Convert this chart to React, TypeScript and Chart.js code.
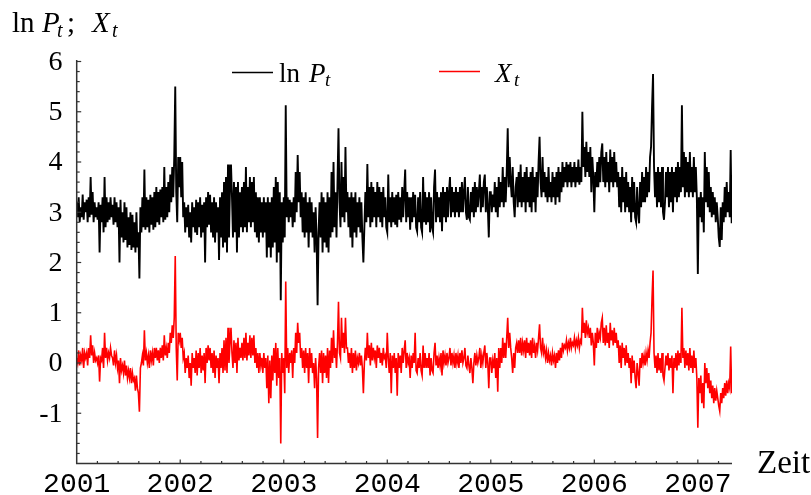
import React, { useEffect, useRef } from "react";
import { Chart, registerables } from "chart.js";

Chart.register(...registerables);

// ---------- data ----------
const YEARS = [2001, 2002, 2003, 2004, 2005, 2006, 2007];
const X_TICK_LABELS = ["2001", "2002", "2003", "2004", "2005", "2006", "2007"];
const Y_TICKS = [-1, 0, 1, 2, 3, 4, 5, 6];
const Y_TICK_LABELS = ["-1", "0", "1", "2", "3", "4", "5", "6"];
const SAMPLES_PER_YEAR = 104; // two readings per week (weekday / weekend)
const X_MIN = 2001;
const X_MAX = 2007.33;
const Y_MIN = -2;
const Y_MAX = 6;

const LNP_2001 = [
  3.2, 2.9, 3.3, 2.8, 3.1, 2.9, 3.35, 2.85, 3.2, 3.0,
  3.25, 2.8, 3.3, 2.9, 3.7, 2.95, 3.4, 2.8, 3.2, 2.9,
  3.1, 2.85, 3.2, 2.2, 3.15, 2.8, 3.3, 2.6, 3.7, 2.7,
  3.3, 2.8, 3.2, 2.85, 3.3, 2.9, 3.15, 2.75, 3.3, 2.8,
  3.2, 2.7, 3.1, 2.0, 3.25, 2.5, 3.0, 2.4, 3.2, 2.45,
  3.1, 2.3, 2.9, 2.35, 3.0, 2.25, 2.95, 2.3, 2.8, 2.2,
  3.0, 2.3, 2.6, 1.68, 3.1, 2.6, 3.3, 2.7, 3.85, 2.65,
  3.3, 2.7, 3.25, 2.6, 3.35, 2.75, 3.3, 2.65, 3.4, 2.7,
  3.5, 2.8, 3.4, 2.75, 3.45, 2.9, 3.5, 2.8, 3.9, 2.85,
  3.5, 2.9, 3.6, 3.0, 3.75, 3.2, 3.9, 3.3, 4.1, 5.5,
  3.4, 2.8, 4.1, 3.5,
];
const LNP_2002 = [
  4.1, 3.3, 4.0, 2.9, 3.2, 2.6, 3.1, 2.7, 3.15, 2.5,
  3.0, 2.4, 3.2, 2.7, 3.1, 2.6, 3.25, 2.55, 3.2, 2.7,
  3.3, 2.5, 3.15, 2.6, 3.2, 2.0, 3.3, 2.7, 3.4, 2.75,
  3.35, 2.6, 3.2, 2.5, 3.3, 2.4, 3.2, 2.6, 3.1, 2.05,
  3.3, 2.5, 3.4, 2.3, 3.6, 2.4, 3.7, 2.2, 3.95, 2.5,
  3.5, 3.95, 3.3, 2.5, 3.6, 2.6, 3.5, 2.2, 3.6, 2.5,
  3.4, 2.7, 3.5, 2.6, 3.6, 2.7, 3.9, 2.6, 3.5, 2.8,
  3.7, 2.7, 3.6, 2.8, 3.7, 2.6, 3.4, 2.5, 3.3, 2.4,
  3.3, 2.6, 3.2, 2.5, 3.3, 2.6, 3.2, 2.1, 3.3, 2.3,
  3.2, 2.1, 3.3, 2.3, 3.5, 2.4, 3.7, 2.0, 3.6, 2.2,
  3.4, 1.25, 3.2, 2.4,
];
const LNP_2003 = [
  3.3, 2.5, 5.13, 2.9, 3.3, 2.8, 3.25, 2.9, 3.2, 2.7,
  3.3, 2.8, 3.8, 3.0, 4.14, 3.2, 3.8, 2.9, 3.4, 2.6,
  3.3, 2.5, 3.4, 2.6, 3.2, 2.3, 3.3, 2.6, 3.2, 2.5,
  3.0, 2.2, 3.1, 2.5, 1.15, 2.6, 3.2, 2.5, 3.4, 2.2,
  3.3, 2.4, 3.2, 2.3, 3.4, 2.2, 3.3, 2.5, 3.8, 2.6,
  4.0, 2.7, 3.4, 2.5, 3.6, 4.67, 3.2, 2.7, 4.0, 2.9,
  3.7, 2.8, 4.3, 3.0, 3.4, 2.7, 3.3, 2.5, 3.4, 2.3,
  3.3, 2.6, 3.4, 2.5, 3.2, 2.7, 3.3, 2.6, 3.2, 2.5,
  2.0, 2.7, 3.4, 2.8, 3.96, 2.9, 3.5, 2.7, 3.6, 2.8,
  3.5, 2.9, 3.4, 2.7, 3.6, 2.9, 3.5, 2.8, 3.4, 2.7,
  3.5, 2.9, 3.3, 2.7,
];
const LNP_2004 = [
  2.6, 3.75, 2.8, 3.3, 2.7, 3.4, 2.8, 3.3, 2.75, 3.35,
  2.7, 3.4, 2.85, 3.3, 2.8, 3.5, 2.9, 3.4, 3.85, 2.8,
  3.4, 2.9, 3.3, 2.65, 3.3, 2.8, 3.4, 2.9, 3.35, 2.7,
  2.62, 3.3, 2.8, 3.4, 2.7, 2.6, 3.7, 2.8, 3.4, 2.75,
  3.3, 2.8, 3.4, 2.6, 3.3, 2.7, 2.6, 3.5, 3.85, 2.8,
  3.4, 2.9, 3.3, 2.8, 3.4, 2.62, 3.5, 2.9, 3.4, 2.8,
  3.5, 2.9, 3.4, 3.7, 2.9, 3.5, 3.0, 3.4, 2.9, 3.5,
  3.0, 3.4, 2.9, 3.5, 3.0, 3.6, 3.0, 3.4, 3.7, 3.0,
  2.85, 3.5, 2.9, 2.85, 3.4, 3.0, 3.5, 2.9, 3.6, 3.0,
  3.5, 3.1, 3.4, 3.75, 3.0, 3.5, 3.1, 3.6, 3.75, 3.0,
  3.5, 3.1, 2.5, 3.4,
];
const LNP_2005 = [
  3.4, 3.0, 3.35, 3.1, 3.6, 3.0, 3.5, 2.9, 3.7, 3.1,
  3.6, 3.2, 3.9, 3.1, 3.7, 3.2, 3.8, 4.67, 3.5, 4.1,
  3.6, 3.3, 3.9, 3.2, 2.9, 3.5, 3.7, 3.1, 3.8, 3.2,
  3.95, 3.1, 3.7, 3.2, 3.8, 3.0, 3.9, 3.2, 3.7, 3.1,
  3.8, 3.0, 3.9, 3.2, 3.7, 3.0, 3.8, 3.3, 4.0, 4.5,
  3.6, 3.3, 4.1, 3.4, 3.8, 3.3, 3.7, 3.2, 3.9, 3.3,
  3.6, 3.2, 3.8, 3.3, 3.7, 3.15, 3.8, 3.3, 3.9, 3.2,
  3.8, 3.4, 4.0, 3.5, 3.9, 3.6, 4.0, 3.5, 3.95, 3.6,
  4.0, 3.5, 3.9, 3.6, 4.0, 3.5, 3.9, 3.6, 4.05, 3.55,
  3.9, 3.6, 5.0, 3.9, 4.3, 3.7, 4.4, 3.8, 4.2, 3.7,
  4.3, 3.4, 4.1, 3.7,
];
const LNP_2006 = [
  3.0, 3.8, 3.5, 4.0, 3.5, 4.1, 3.6, 4.2, 4.37, 3.6,
  4.1, 3.5, 4.2, 3.6, 4.0, 3.4, 4.25, 3.6, 4.1, 3.5,
  4.2, 3.6, 4.0, 3.5, 3.8, 3.1, 3.7, 3.0, 3.9, 3.2,
  3.7, 3.0, 3.8, 3.1, 3.6, 3.0, 3.5, 2.8, 3.7, 3.0,
  3.6, 2.9, 2.8, 3.5, 3.0, 2.78, 3.6, 3.1, 3.8, 3.2,
  3.7, 3.2, 3.9, 3.3, 3.8, 3.4, 4.1, 4.3, 5.1, 5.75,
  3.9, 3.3, 3.8, 3.1, 3.9, 3.2, 3.8, 3.1, 3.9, 3.0,
  2.85, 3.2, 3.8, 3.3, 3.9, 3.1, 3.8, 3.2, 3.9, 3.0,
  3.8, 3.3, 3.9, 3.2, 4.0, 3.3, 3.9, 3.4, 5.13, 3.5,
  4.2, 3.3, 4.1, 3.4, 4.0, 3.3, 4.2, 3.4, 3.9, 3.3,
  4.1, 3.4, 3.9, 3.3,
];
const LNP_2007 = [
  1.77, 3.3, 2.9, 3.4, 2.8, 3.3, 2.6, 4.2, 3.2, 3.9,
  3.1, 3.8, 3.0, 3.5, 2.9, 3.4, 2.95, 3.3, 2.8, 3.2,
  2.9, 2.5, 2.31, 3.1, 2.45, 3.2, 2.8, 3.5, 2.9, 3.6,
  3.0, 3.4, 2.9, 4.24, 2.78,
];

const X_2001 = [
  0.1, 0.0, 0.25, -0.05, 0.15, 0.05, 0.3, -0.1, 0.2, 0.1,
  0.2, -0.05, 0.3, 0.1, 0.55, 0.15, 0.35, 0.0, 0.2, 0.05,
  0.1, 0.0, 0.15, -0.37, 0.1, 0.05, 0.3, -0.1, 0.6, 0.1,
  0.3, 0.05, 0.2, 0.1, 0.3, 0.15, 0.1, -0.05, 0.25, 0.0,
  0.15, -0.1, 0.05, -0.4, 0.1, -0.15, -0.05, -0.2, 0.05, -0.25,
  -0.05, -0.3, -0.15, -0.3, -0.1, -0.4, -0.2, -0.35, -0.3, -0.55,
  -0.25, -0.5, -0.6, -0.97, -0.1, 0.0, 0.15, -0.05, 0.65, 0.05,
  0.2, 0.0, 0.15, -0.1, 0.25, 0.05, 0.2, -0.05, 0.3, 0.1,
  0.3, 0.05, 0.25, 0.0, 0.3, 0.1, 0.35, 0.05, 0.55, 0.15,
  0.3, 0.1, 0.4, 0.2, 0.6, 0.4, 0.75, 0.5, 0.9, 2.13,
  0.3, -0.35, 0.6, 0.45,
];
const X_2002 = [
  0.6, 0.3, 0.5, 0.1, 0.2, -0.2, 0.1, -0.1, 0.15, -0.3,
  0.0, -0.45, 0.2, -0.1, 0.1, -0.2, 0.25, -0.25, 0.2, -0.1,
  0.3, -0.2, 0.15, -0.15, 0.2, -0.4, 0.3, 0.0, 0.35, 0.05,
  0.3, -0.1, 0.2, -0.2, 0.25, -0.3, 0.15, -0.1, 0.1, -0.4,
  0.2, -0.1, 0.3, -0.2, 0.45, -0.15, 0.5, -0.2, 0.7, 0.0,
  0.4, 0.7, 0.2, -0.1, 0.45, 0.0, 0.4, -0.2, 0.5, 0.05,
  0.3, 0.1, 0.4, 0.05, 0.5, 0.1, 0.6, 0.05, 0.4, 0.15,
  0.55, 0.1, 0.5, 0.15, 0.55, 0.0, 0.3, -0.1, 0.2, -0.2,
  0.2, -0.05, 0.1, -0.2, 0.2, -0.1, 0.1, -0.5, 0.15, -0.8,
  0.05, -0.7, 0.15, -0.35, 0.3, -0.2, 0.4, -0.45, 0.3, -0.3,
  0.1, -1.6, 0.2, -0.2,
];
const X_2003 = [
  0.1, -0.6, 1.62, -0.1, 0.3, -0.2, 0.2, 0.0, 0.25, -0.3,
  0.3, 0.0, 0.6, 0.2, 0.8, 0.4, 0.6, 0.1, 0.3, -0.1,
  0.25, -0.2, 0.3, -0.1, 0.2, -0.4, 0.3, -0.1, 0.2, -0.2,
  0.0, -0.5, 0.1, -0.3, -1.49, -0.1, 0.2, -0.2, 0.25, -0.4,
  0.2, -0.2, 0.15, -0.3, 0.3, -0.4, 0.25, -0.1, 0.5, 0.0,
  0.65, 0.1, 0.3, -0.1, 0.4, 1.22, 0.2, 0.1, 0.9, 0.3,
  0.6, 0.2, 0.9, 0.3, 0.3, 0.0, 0.2, -0.1, 0.3, -0.2,
  0.2, -0.1, 0.25, -0.15, 0.1, 0.0, 0.2, -0.05, 0.15, -0.1,
  -0.6, 0.0, 0.3, 0.05, 0.6, 0.1, 0.35, -0.05, 0.4, 0.05,
  0.3, 0.1, 0.25, -0.1, 0.35, 0.1, 0.3, 0.0, 0.2, -0.05,
  0.3, 0.1, 0.15, -0.1,
];
const X_2004 = [
  0.6, 0.1, -0.2, 0.2, -0.6, 0.15, -0.1, 0.2, -0.2, 0.1,
  -0.65, 0.2, -0.1, 0.15, -0.2, 0.3, 0.0, 0.25, 0.45, -0.1,
  0.2, 0.0, 0.1, -0.3, 0.15, -0.1, 0.2, 0.0, 0.6, -0.15,
  -0.2, 0.1, -0.1, 0.2, -0.15, -0.25, 0.35, -0.1, 0.2, -0.1,
  0.1, -0.1, 0.2, -0.25, 0.1, -0.15, -0.2, 0.2, 0.4, -0.05,
  0.15, -0.1, 0.1, -0.05, 0.2, -0.25, 0.25, 0.0, 0.15, -0.05,
  0.2, 0.0, 0.1, 0.3, -0.05, 0.2, 0.0, 0.15, -0.1, 0.2,
  0.0, 0.15, -0.1, 0.2, 0.0, 0.25, 0.0, 0.1, 0.3, -0.05,
  -0.1, 0.15, -0.05, -0.2, 0.1, -0.1, -0.4, 0.0, 0.2, -0.05,
  0.15, 0.0, 0.1, 0.3, -0.1, 0.15, 0.0, 0.2, 0.35, -0.1,
  0.2, 0.0, -0.5, 0.1,
];
const X_2005 = [
  0.1, -0.2, 0.05, -0.1, 0.2, -0.3, 0.1, -0.57, 0.3, -0.1,
  0.3, 0.0, 0.5, 0.1, 0.4, 0.1, 0.5, 0.9, 0.3, 0.6,
  0.3, 0.1, -0.2, 0.2, -0.1, 0.3, 0.4, 0.2, 0.45, 0.2,
  0.5, 0.15, 0.4, 0.25, 0.45, 0.1, 0.5, 0.2, 0.4, 0.15,
  0.45, 0.1, 0.5, 0.2, 0.35, 0.1, 0.4, 0.25, 0.5, 0.77,
  0.3, 0.2, 0.5, 0.2, 0.3, 0.1, 0.25, 0.0, 0.2, 0.05,
  0.15, -0.05, 0.2, 0.05, 0.15, -0.1, 0.2, 0.0, 0.25, 0.05,
  0.3, 0.1, 0.4, 0.25, 0.35, 0.3, 0.45, 0.25, 0.4, 0.3,
  0.5, 0.3, 0.4, 0.35, 0.5, 0.3, 0.45, 0.35, 0.5, 0.3,
  0.45, 0.4, 1.1, 0.6, 0.8, 0.5, 0.85, 0.6, 0.7, 0.5,
  0.7, 0.35, 0.6, 0.4,
];
const X_2006 = [
  -0.05, 0.6, 0.3, 0.7, 0.4, 0.6, 0.5, 0.8, 0.9, 0.4,
  0.7, 0.35, 0.75, 0.4, 0.6, 0.3, 0.8, 0.45, 0.65, 0.35,
  0.7, 0.4, 0.6, 0.3, 0.45, 0.0, 0.35, -0.1, 0.4, 0.1,
  0.3, -0.05, 0.35, 0.0, 0.2, -0.1, 0.1, -0.4, 0.15, -0.2,
  0.05, -0.3, -0.5, 0.0, -0.2, -0.45, 0.1, -0.1, 0.2, 0.0,
  0.15, -0.05, 0.2, 0.05, 0.25, 0.1, 0.4, 0.6, 1.3, 1.84,
  0.2, -0.1, 0.15, -0.2, 0.2, -0.15, 0.1, -0.2, 0.2, -0.25,
  -0.35, -0.1, 0.15, -0.05, 0.2, -0.15, 0.1, -0.1, 0.15, -0.6,
  0.1, -0.1, 0.2, -0.15, 0.25, -0.05, 0.2, 0.0, 1.1, 0.1,
  0.3, -0.1, 0.25, -0.05, 0.2, -0.15, 0.3, -0.1, 0.15, -0.2,
  0.25, -0.1, 0.1, -0.3,
];
const X_2007 = [
  -1.29, -0.3, -0.6, -0.25, -0.8, -0.4, -0.9, 0.0, -0.4, -0.1,
  -0.5, -0.2, -0.6, -0.35, -0.7, -0.45, -0.8, -0.5, -0.75, -0.55,
  -0.7, -0.85, -0.96, -0.6, -0.8, -0.5, -0.7, -0.4, -0.65, -0.35,
  -0.6, -0.4, -0.5, 0.33, -0.6,
];

const LNP_BY_YEAR = [LNP_2001, LNP_2002, LNP_2003, LNP_2004, LNP_2005, LNP_2006, LNP_2007];
const X_BY_YEAR = [X_2001, X_2002, X_2003, X_2004, X_2005, X_2006, X_2007];

function toPoints(byYear: number[][]) {
  const pts: { x: number; y: number }[] = [];
  byYear.forEach((arr, yi) => {
    arr.forEach((v, i) => pts.push({ x: YEARS[yi] + i / SAMPLES_PER_YEAR, y: v }));
  });
  return pts;
}

// ---------- styling ----------
const SERIF = "'Liberation Serif', 'DejaVu Serif', serif";
const MONO = "'Liberation Mono', 'DejaVu Sans Mono', monospace";

type Run = { t: string; x: number; y: number; size: number; italic?: boolean };

function drawRuns(ctx: CanvasRenderingContext2D, runs: Run[]) {
  ctx.textAlign = "left";
  ctx.textBaseline = "alphabetic";
  ctx.fillStyle = "#000";
  for (const r of runs) {
    ctx.font = `${r.italic ? "italic " : ""}${r.size}px ${SERIF}`;
    ctx.fillText(r.t, r.x, r.y);
  }
}

const decorPlugin = {
  id: "decor",
  afterDraw(chart: any) {
    const ctx: CanvasRenderingContext2D = chart.ctx;
    const xs = chart.scales.x;
    const ys = chart.scales.y;
    const { left, right, top, bottom } = chart.chartArea;
    ctx.save();

    // axes
    ctx.strokeStyle = "#333";
    ctx.lineWidth = 1.5;
    ctx.beginPath();
    ctx.moveTo(left, top - 1.5);
    ctx.lineTo(left, bottom);
    ctx.lineTo(right, bottom);
    ctx.stroke();

    // y ticks (inside), every 0.2
    ctx.lineWidth = 1.2;
    for (let k = 1; k <= 40; k++) {
      const v = Y_MIN + k * 0.2;
      const py = ys.getPixelForValue(v);
      const len = k % 5 === 0 ? 4.5 : 3;
      ctx.beginPath();
      ctx.moveTo(left, py);
      ctx.lineTo(left + len, py);
      ctx.stroke();
    }
    // x ticks (inside), every 0.2 years
    for (let k = 1; k * 0.2 + X_MIN <= X_MAX + 1e-6; k++) {
      const v = X_MIN + k * 0.2;
      const px = xs.getPixelForValue(v);
      const len = k % 5 === 0 ? 4 : 2.5;
      ctx.beginPath();
      ctx.moveTo(px, bottom);
      ctx.lineTo(px, bottom - len);
      ctx.stroke();
    }

    // y tick labels
    ctx.fillStyle = "#000";
    ctx.font = `28px ${SERIF}`;
    ctx.textAlign = "right";
    ctx.textBaseline = "middle";
    Y_TICKS.forEach((v, i) => {
      ctx.fillText(Y_TICK_LABELS[i], 62.5, ys.getPixelForValue(v) + 1);
    });

    // x tick labels
    ctx.font = `28px ${MONO}`;
    ctx.textAlign = "center";
    ctx.textBaseline = "alphabetic";
    YEARS.forEach((v, i) => {
      ctx.fillText(X_TICK_LABELS[i], xs.getPixelForValue(v), 492);
    });

    // axis titles
    drawRuns(ctx, [
      { t: "ln", x: 12, y: 32, size: 29 },
      { t: "P", x: 42, y: 32, size: 29, italic: true },
      { t: "t", x: 57, y: 37, size: 20, italic: true },
      { t: ";", x: 67, y: 32, size: 29 },
      { t: "X", x: 92, y: 32, size: 29, italic: true },
      { t: "t", x: 112, y: 37, size: 20, italic: true },
    ]);
    drawRuns(ctx, [{ t: "Zeit", x: 757, y: 472.5, size: 33 }]);

    // legend
    ctx.lineWidth = 1.5;
    ctx.strokeStyle = "#000";
    ctx.beginPath();
    ctx.moveTo(232, 72.5);
    ctx.lineTo(273, 72.5);
    ctx.stroke();
    ctx.strokeStyle = "#ff0000";
    ctx.beginPath();
    ctx.moveTo(439, 71.5);
    ctx.lineTo(480, 71.5);
    ctx.stroke();
    drawRuns(ctx, [
      { t: "ln", x: 279, y: 81.5, size: 27 },
      { t: "P", x: 309, y: 81.5, size: 27, italic: true },
      { t: "t", x: 325, y: 86, size: 19, italic: true },
      { t: "X", x: 495, y: 81.5, size: 27, italic: true },
      { t: "t", x: 514, y: 86, size: 19, italic: true },
    ]);

    ctx.restore();
  },
};

export default function App() {
  const ref = useRef<HTMLCanvasElement | null>(null);

  useEffect(() => {
    document.body.style.margin = "0";
    if (!ref.current) return;
    const chart = new Chart(ref.current, {
      type: "line",
      data: {
        datasets: [
          {
            label: "ln P_t",
            data: toPoints(LNP_BY_YEAR),
            borderColor: "#000000",
            borderWidth: 1.9,
            pointRadius: 0,
            tension: 0,
            fill: false,
          },
          {
            label: "X_t",
            data: toPoints(X_BY_YEAR),
            borderColor: "#ff0000",
            borderWidth: 1.6,
            pointRadius: 0,
            tension: 0,
            fill: false,
          },
        ],
      },
      options: {
        responsive: false,
        animation: false,
        parsing: true,
        layout: { padding: { left: 76.7, right: 79, top: 61.5, bottom: 31.5 } },
        plugins: { legend: { display: false }, tooltip: { enabled: false }, title: { display: false } },
        scales: {
          x: { type: "linear", min: X_MIN, max: X_MAX, display: false },
          y: { type: "linear", min: Y_MIN, max: Y_MAX, display: false },
        },
      },
      plugins: [decorPlugin],
    });
    return () => chart.destroy();
  }, []);

  return (
    <div style={{ position: "absolute", left: 0, top: 0, width: 811, height: 495, background: "#fff" }}>
      <canvas ref={ref} width={811} height={495} />
    </div>
  );
}
